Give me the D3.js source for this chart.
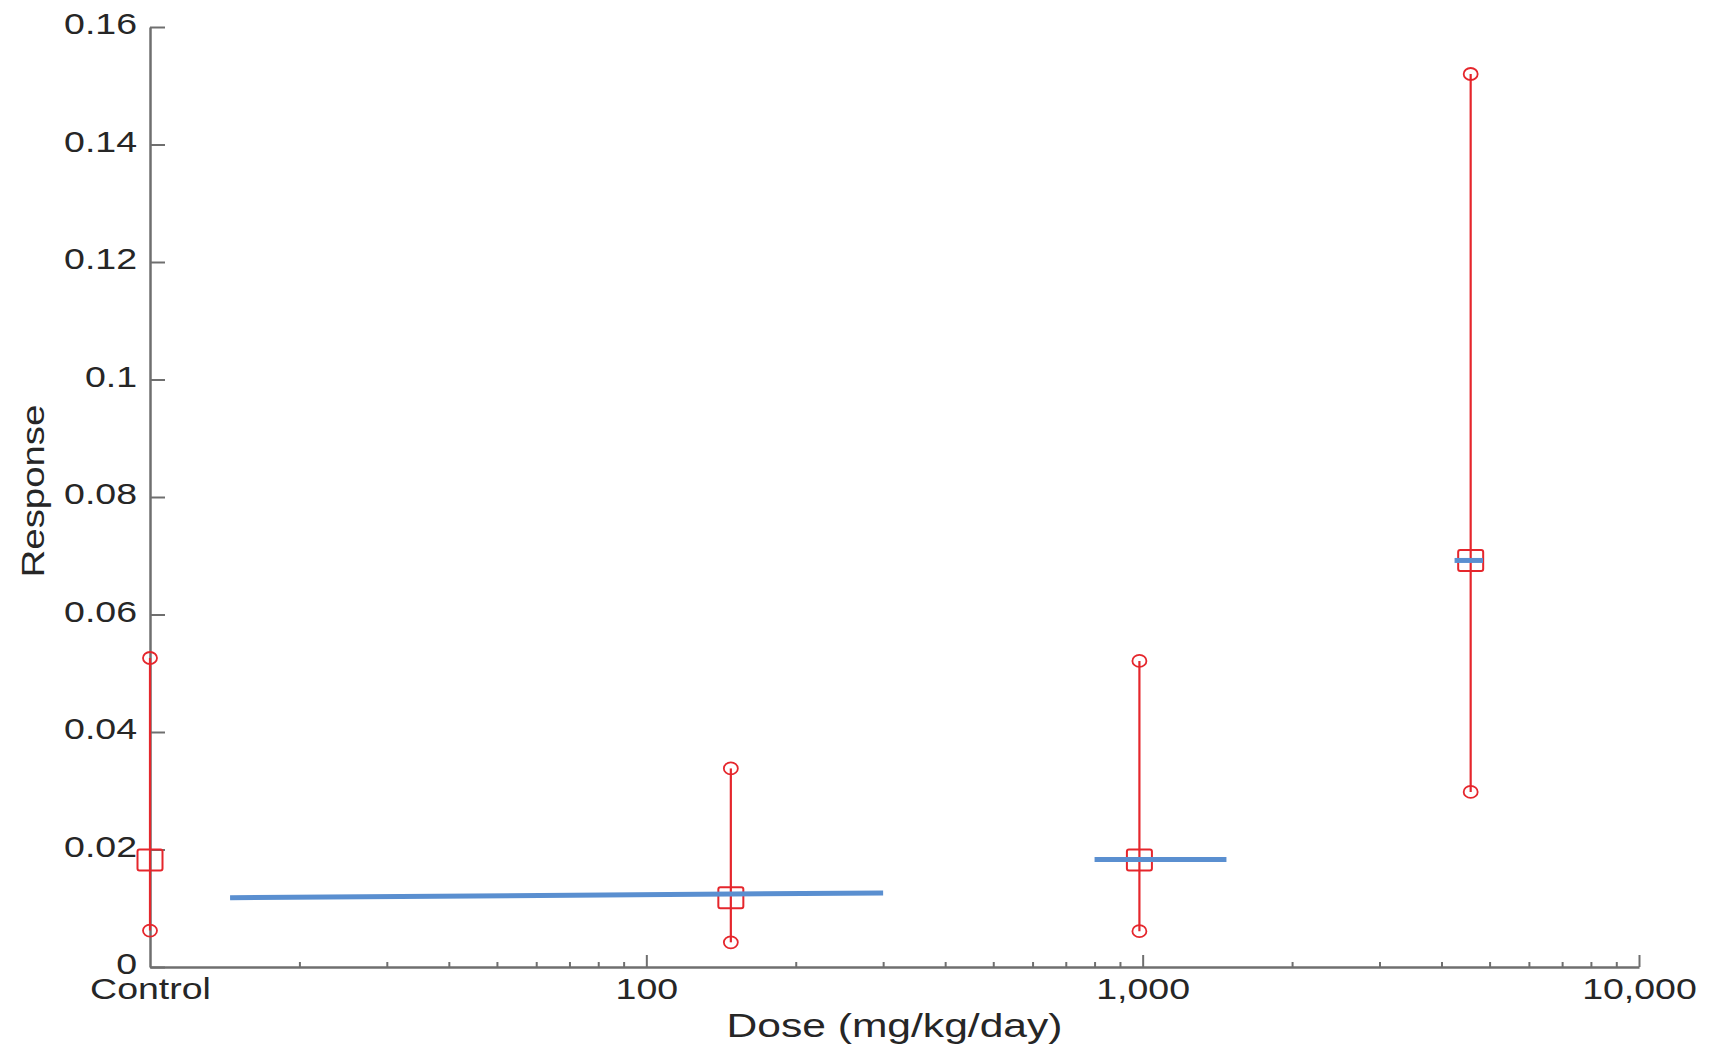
<!DOCTYPE html>
<html>
<head>
<meta charset="utf-8">
<script src="https://cdn.jsdelivr.net/npm/d3@7"></script>
<style>
  html, body { margin: 0; padding: 0; background: #fff; }
  svg { display: block; }
  text { font-family: "Liberation Sans", Arial, Helvetica, sans-serif; fill: #262626; }
</style>
</head>
<body>
<svg id="chart" width="1710" height="1049"></svg>
<script>
// ---------- data ----------
const groupLabels = ["Control", "148", "985", "4580"];
const doses = [10, 148, 985, 4580];            // Control is plotted at the axis origin (10)
const means = [0.0182, 0.0118, 0.0182, 0.0692];
const lowerBounds = [0.0062, 0.0042, 0.0061, 0.0298];
const upperBounds = [0.0526, 0.0338, 0.0521, 0.1520];

// fitted model segments (blue)
const fitStartDose = [14.5, 800, 4250];
const fitEndDose = [300, 1475, 4850];
const fitStartResp = [0.0118, 0.0183, 0.0692];
const fitEndResp = [0.0126, 0.0183, 0.0692];

// axes
const yTickValues = [0, 0.02, 0.04, 0.06, 0.08, 0.1, 0.12, 0.14, 0.16];
const xMajorTicks = [10, 100, 1000, 10000];
const xMajorLabels = ["Control", "100", "1,000", "10,000"];
const xMinorTicks = [20, 30, 40, 50, 60, 70, 80, 90,
                     200, 300, 400, 500, 600, 700, 800, 900,
                     2000, 3000, 4000, 5000, 6000, 7000, 8000, 9000];
const xTitle = "Dose (mg/kg/day)";
const yTitle = "Response";

// ---------- layout ----------
const plotLeft = 150, plotRight = 1639, plotTop = 27, plotBottom = 967;
const stretch = 1.25;
const axisColor = "#6f6f6f";
const red = "#e5262c";
const blue = "#5a8fd0";

const svg = d3.select("#chart");

const x = d3.scaleLog().domain([10, 10000]).range([plotLeft, plotRight]);
const y = d3.scaleLinear().domain([0, 0.16]).range([plotBottom, plotTop]);

function stretchTexts(sel) {
  sel.selectAll("text").each(function () {
    const t = d3.select(this);
    const tx = +t.attr("x") || 0;
    const ty = +t.attr("y") || 0;
    t.attr("x", 0).attr("y", 0)
     .attr("transform", `translate(${tx},${ty}) scale(${stretch},1)`);
  });
}

// Y axis
const yAxis = d3.axisLeft(y)
  .tickValues(yTickValues)
  .tickFormat(d => d === 0 ? "0" : String(+d.toFixed(2)))
  .tickSizeInner(-15).tickSizeOuter(0).tickPadding(13);
const gy = svg.append("g").attr("transform", `translate(${plotLeft},0)`).call(yAxis);
gy.select(".domain").attr("stroke", axisColor).attr("stroke-width", 2.5);
gy.selectAll(".tick line").attr("stroke", axisColor).attr("stroke-width", 2);
gy.selectAll(".tick text").attr("font-size", 30).attr("dy", "0.22em")
  .style("font-family", '"Liberation Sans", Arial, sans-serif').attr("fill", "#262626");
stretchTexts(gy);

// X axis minor ticks
const xMinor = d3.axisBottom(x).tickValues(xMinorTicks).tickFormat("")
  .tickSizeInner(-5).tickSizeOuter(0);
const gxm = svg.append("g").attr("transform", `translate(0,${plotBottom})`).call(xMinor);
gxm.select(".domain").remove();
gxm.selectAll(".tick line").attr("stroke", axisColor).attr("stroke-width", 2);

// X axis major ticks
const xAxis = d3.axisBottom(x)
  .tickValues(xMajorTicks)
  .tickFormat((d, i) => xMajorLabels[i])
  .tickSizeInner(-12).tickSizeOuter(0).tickPadding(11);
const gx = svg.append("g").attr("transform", `translate(0,${plotBottom})`).call(xAxis);
gx.select(".domain").attr("stroke", axisColor).attr("stroke-width", 2.5);
gx.selectAll(".tick line").attr("stroke", axisColor).attr("stroke-width", 2);
gx.selectAll(".tick").filter(d => d === 10).select("line").remove();
gx.selectAll(".tick text").attr("font-size", 30)
  .style("font-family", '"Liberation Sans", Arial, sans-serif').attr("fill", "#262626");
stretchTexts(gx);

// Axis titles
svg.append("text")
  .attr("transform", `translate(${(plotLeft + plotRight) / 2},1037) scale(1.29,1)`)
  .attr("text-anchor", "middle")
  .attr("font-size", 33)
  .text(xTitle);

svg.append("text")
  .attr("transform", `translate(44,${(plotTop + plotBottom) / 2 - 6}) rotate(-90) scale(1.2,1)`)
  .attr("text-anchor", "middle")
  .attr("font-size", 32)
  .text(yTitle);

// ---------- error bars ----------
const data = groupLabels.map((g, i) => ({
  g, dose: doses[i], mean: means[i], lo: lowerBounds[i], hi: upperBounds[i]
}));

const eb = svg.append("g");
eb.selectAll("line.err").data(data).join("line")
  .attr("class", "err")
  .attr("x1", d => x(d.dose)).attr("x2", d => x(d.dose))
  .attr("y1", d => y(d.lo)).attr("y2", d => y(d.hi))
  .attr("stroke", red).attr("stroke-width", 2.2);

eb.selectAll("ellipse.hi").data(data).join("ellipse")
  .attr("class", "hi")
  .attr("cx", d => x(d.dose)).attr("cy", d => y(d.hi))
  .attr("rx", 7).attr("ry", 6)
  .attr("fill", "none").attr("stroke", red).attr("stroke-width", 1.8);

eb.selectAll("ellipse.lo").data(data).join("ellipse")
  .attr("class", "lo")
  .attr("cx", d => x(d.dose)).attr("cy", d => y(d.lo))
  .attr("rx", 7).attr("ry", 6)
  .attr("fill", "none").attr("stroke", red).attr("stroke-width", 1.8);

eb.selectAll("rect.mean").data(data).join("rect")
  .attr("class", "mean")
  .attr("x", d => x(d.dose) - 12.5).attr("y", d => y(d.mean) - 10.5)
  .attr("width", 25).attr("height", 21).attr("rx", 2)
  .attr("fill", "none").attr("stroke", red).attr("stroke-width", 2);

// ---------- fitted model ----------
const fits = fitStartDose.map((d, i) => ({
  x0: d, x1: fitEndDose[i], y0: fitStartResp[i], y1: fitEndResp[i]
}));
const lineGen = d3.line().x(p => x(p[0])).y(p => y(p[1]));
svg.append("g").selectAll("path").data(fits).join("path")
  .attr("d", f => lineGen([[f.x0, f.y0], [f.x1, f.y1]]))
  .attr("fill", "none").attr("stroke", blue).attr("stroke-width", 5);
</script>
</body>
</html>
